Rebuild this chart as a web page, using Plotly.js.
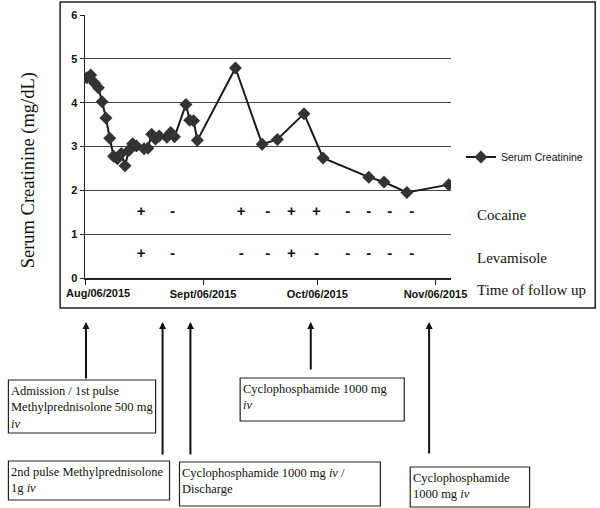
<!DOCTYPE html>
<html>
<head>
<meta charset="utf-8">
<script src="https://cdn.plot.ly/plotly-3.0.1.min.js"></script>
<style>
  html, body { margin: 0; padding: 0; background: #fff; }
  #chart { width: 600px; height: 508px; }
</style>
</head>
<body>
<div id="chart"></div>
<script>
// ---- data ----
const visitDates = [
  '2015-08-06', '2015-08-07', '2015-08-08', '2015-08-09', '2015-08-10',
  '2015-08-11', '2015-08-12', '2015-08-13', '2015-08-14', '2015-08-15',
  '2015-08-16', '2015-08-17', '2015-08-18', '2015-08-19', '2015-08-21',
  '2015-08-22', '2015-08-23', '2015-08-24', '2015-08-25', '2015-08-27',
  '2015-08-28', '2015-08-29', '2015-09-01', '2015-09-02', '2015-09-03',
  '2015-09-04', '2015-09-14', '2015-09-21', '2015-09-25', '2015-10-02',
  '2015-10-07', '2015-10-19', '2015-10-23', '2015-10-29', '2015-11-09'
];
const creatinine = [
  4.57, 4.63, 4.45, 4.34, 4.02,
  3.65, 3.19, 2.78, 2.72, 2.84,
  2.56, 2.91, 3.06, 3.01, 2.95,
  2.96, 3.28, 3.17, 3.24, 3.21,
  3.32, 3.22, 3.96, 3.60, 3.59,
  3.14, 4.79, 3.05, 3.16, 3.75,
  2.74, 2.30, 2.19, 1.95, 2.13
];

// urine screening results (+ positive, - negative)
const testDates = [
  '2015-08-20 18:00', '2015-08-29 00:00', '2015-09-16 00:00', '2015-09-23 00:00',
  '2015-09-29 05:00', '2015-10-05 18:00', '2015-10-14 00:00', '2015-10-19 12:00',
  '2015-10-25 00:00', '2015-10-30 18:00'
];
const cocaine    = ['+', '-', '+', '-', '+', '+', '-', '-', '-', '-'];
const levamisole = ['+', '-', '-', '-', '+', '-', '-', '-', '-', '-'];
const cocaineRow = 1.5;
const levamisoleRow = 0.55;

const tickDates  = ['2015-08-06', '2015-09-06', '2015-10-06', '2015-11-06'];
const tickLabels = ['Aug/06/2015', 'Sept/06/2015', 'Oct/06/2015', 'Nov/06/2015'];

const rowLabels = ['Cocaine', 'Levamisole', 'Time of follow up'];

const events = [
  'Admission / 1st pulse<br>Methylprednisolone 500 mg<br><i>iv</i>',
  '2nd pulse Methylprednisolone<br>1g <i>iv</i>',
  'Cyclophosphamide 1000 mg <i>iv</i> /<br>Discharge',
  'Cyclophosphamide 1000 mg<br><i>iv</i>',
  'Cyclophosphamide<br>1000 mg <i>iv</i>'
];

// ---- page geometry (pixels) ----
const ML = 85, MT = 15, PW = 368, PH = 263;
function px(x) { return (x - ML) / PW; }
function py(y) { return (MT + PH - y) / PH; }

const serif = 'Liberation Serif, Times New Roman, serif';
const sans = 'Liberation Sans, Arial, sans-serif';

let traces = [
  {
    x: visitDates.map(d => d + ' 12:00'),
    y: creatinine,
    name: 'Serum Creatinine',
    type: 'scatter',
    mode: 'lines+markers',
    line: { color: '#1a1a1a', width: 2 },
    marker: { symbol: 'diamond', size: 10, color: '#333333' },
    hoverinfo: 'skip'
  },
  {
    x: testDates,
    y: testDates.map(() => cocaineRow),
    type: 'scatter',
    mode: 'text',
    text: cocaine,
    textfont: { family: sans, size: 15, color: '#111', weight: 'bold' },
    showlegend: false,
    hoverinfo: 'skip'
  },
  {
    x: testDates,
    y: testDates.map(() => levamisoleRow),
    type: 'scatter',
    mode: 'text',
    text: levamisole,
    textfont: { family: sans, size: 15, color: '#111', weight: 'bold' },
    showlegend: false,
    hoverinfo: 'skip'
  }
];

// event boxes: [left, top, right, bottom] and arrow [x, head y, tail y]
const boxes = [
  [8, 380, 156, 433],
  [8, 461, 170, 500],
  [180, 462, 382, 506],
  [241, 378, 406, 421],
  [412, 467, 532, 507]
];
const arrows = [
  [86, 322, 380],
  [163, 322, 456],
  [191, 322, 456],
  [312, 322, 371],
  [431, 322, 455]
];

let shapes = [
  { type: 'rect', xref: 'paper', yref: 'paper',
    x0: px(60), x1: px(598), y0: py(308), y1: py(2),
    line: { color: '#222', width: 1.5 } }
];
let annotations = [];

boxes.forEach((b, i) => {
  shapes.push({ type: 'rect', xref: 'paper', yref: 'paper',
    x0: px(b[0]), x1: px(b[2]), y0: py(b[3]), y1: py(b[1]),
    line: { color: '#222', width: 1.2 } });
  annotations.push({ xref: 'paper', yref: 'paper',
    x: px(b[0] + 1), y: py(b[1] + 2), xanchor: 'left', yanchor: 'top',
    align: 'left', showarrow: false, text: events[i],
    font: { family: serif, size: 12.5, color: '#111' } });
});

arrows.forEach(a => {
  annotations.push({ xref: 'paper', yref: 'paper',
    x: px(a[0]), y: py(a[1]), ax: 0, ay: a[2] - a[1],
    text: '', showarrow: true, arrowhead: 2, arrowsize: 0.7,
    arrowwidth: 2, arrowcolor: '#111', standoff: 0 });
});

// row labels on the right
[215, 258, 290].forEach((y, i) => {
  annotations.push({ xref: 'paper', yref: 'paper',
    x: px(477), y: py(y), xanchor: 'left', yanchor: 'middle',
    showarrow: false, text: rowLabels[i],
    font: { family: serif, size: 15, color: '#111' } });
});

// first tick label sits shifted to the right (kept inside the frame)
annotations.push({ xref: 'paper', yref: 'paper',
  x: px(98), y: py(293), xanchor: 'center', yanchor: 'middle',
  showarrow: false, text: tickLabels[0],
  font: { family: sans, size: 11, color: '#111', weight: 'bold' } });

// y axis title
annotations.push({ xref: 'paper', yref: 'paper',
  x: px(28), y: py(170), xanchor: 'center', yanchor: 'middle',
  showarrow: false, textangle: -90, text: 'Serum Creatinine (mg/dL)',
  font: { family: serif, size: 18.5, color: '#111' } });

let layout = {
  width: 600,
  height: 508,
  margin: { l: ML, r: 600 - ML - PW, t: MT, b: 508 - MT - PH, pad: 0 },
  paper_bgcolor: '#fff',
  plot_bgcolor: '#fff',
  showlegend: true,
  legend: {
    x: px(463), y: py(157), xanchor: 'left', yanchor: 'middle',
    bgcolor: 'rgba(0,0,0,0)', borderwidth: 0, itemwidth: 30,
    font: { family: sans, size: 10.5, color: '#111' }
  },
  hovermode: false,
  xaxis: {
    type: 'date',
    range: ['2015-08-06 00:00', '2015-11-10 02:00'],
    tickvals: tickDates,
    ticktext: tickLabels.map((t, i) => (i === 0 ? '' : t)),
    tickangle: 0,
    ticks: 'outside', ticklen: 5, tickcolor: '#222', tickwidth: 1,
    showline: true, linecolor: '#222', linewidth: 1.5,
    showgrid: false, zeroline: false,
    tickfont: { family: sans, size: 11, color: '#111', weight: 'bold' }
  },
  yaxis: {
    range: [0, 6],
    tickvals: [0, 1, 2, 3, 4, 5, 6],
    ticks: 'outside', ticklen: 4, tickcolor: '#222', tickwidth: 1,
    showline: true, linecolor: '#222', linewidth: 1.5,
    showgrid: true, gridcolor: '#444', gridwidth: 1,
    zeroline: false,
    tickfont: { family: sans, size: 11, color: '#111', weight: 'bold' }
  },
  shapes: shapes,
  annotations: annotations
};

Plotly.newPlot('chart', traces, layout, { displayModeBar: false, staticPlot: true });
</script>
</body>
</html>
